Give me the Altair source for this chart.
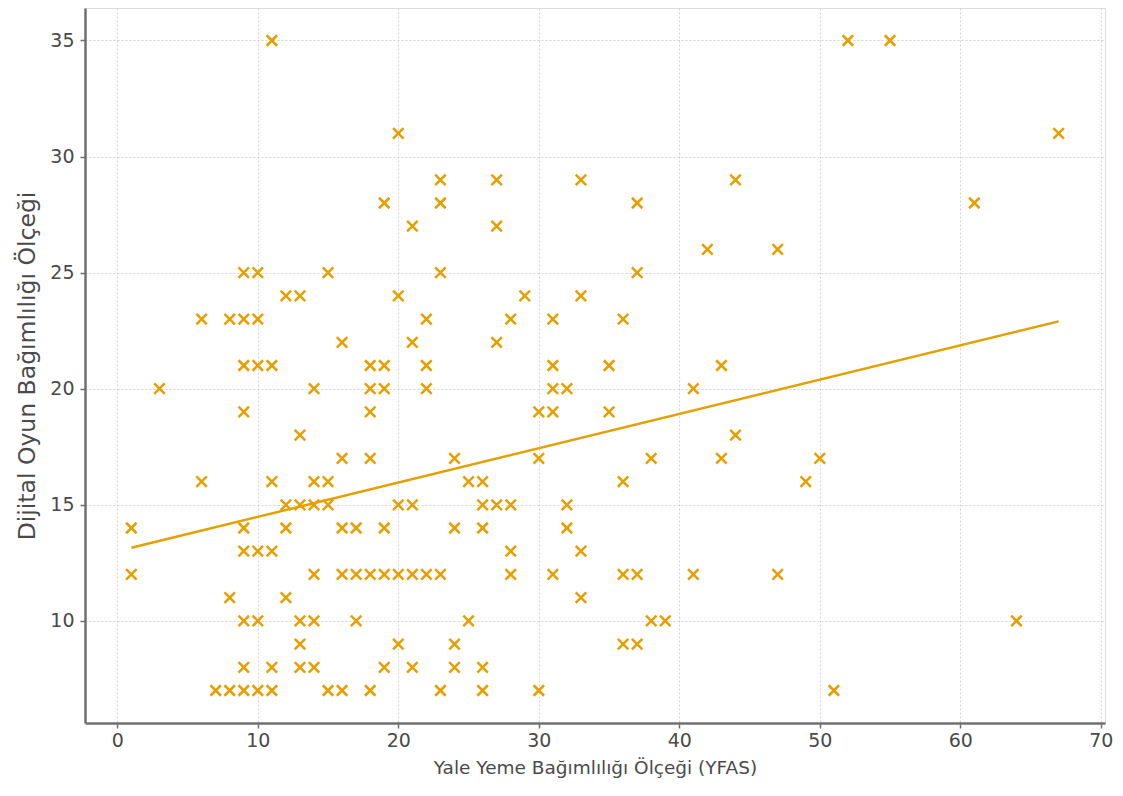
import altair as alt
import pandas as pd

# Points, grouped by the y value (Dijital Oyun Bağımlılığı Ölçeği)
yfas = [
    11, 52, 55,
    20, 67,
    23, 27, 33, 44,
    19, 23, 37, 61,
    21, 27,
    42, 47,
    9, 10, 15, 23, 37,
    12, 13, 20, 29, 33,
    6, 8, 9, 10, 22, 28, 31, 36,
    16, 21, 27,
    9, 10, 11, 18, 19, 22, 31, 35, 43,
    3, 14, 18, 19, 22, 31, 32, 41,
    9, 18, 30, 31, 35,
    13, 44,
    16, 18, 24, 30, 38, 43, 50,
    6, 11, 14, 15, 25, 26, 36, 49,
    12, 13, 14, 15, 20, 21, 26, 27, 28, 32,
    1, 9, 12, 16, 17, 19, 24, 26, 32,
    9, 10, 11, 28, 33,
    1, 14, 16, 17, 18, 19, 20, 21, 22, 23, 28, 31, 36, 37, 41, 47,
    8, 12, 33,
    9, 10, 13, 14, 17, 25, 38, 39, 64,
    13, 20, 24, 36, 37,
    9, 11, 13, 14, 19, 21, 24, 26,
    7, 8, 9, 10, 11, 15, 16, 18, 23, 26, 30, 51,
]
dijital = (
    [35] * 3 + [31] * 2 + [29] * 4 + [28] * 4 + [27] * 2 + [26] * 2 + [25] * 5
    + [24] * 5 + [23] * 8 + [22] * 3 + [21] * 9 + [20] * 8 + [19] * 5 + [18] * 2
    + [17] * 7 + [16] * 8 + [15] * 10 + [14] * 9 + [13] * 5 + [12] * 16 + [11] * 3
    + [10] * 9 + [9] * 5 + [8] * 8 + [7] * 12
)

# Fitted trend line as drawn in the reference (end points)
fit_x = [1, 67]
fit_y = [13.15, 22.9]

x_ticks = [0, 10, 20, 30, 40, 50, 60, 70]
y_ticks = [10, 15, 20, 25, 30, 35]

df = pd.DataFrame({"x": yfas, "y": dijital})
fit_df = pd.DataFrame({"x": fit_x, "y": fit_y})

COLOR = "#E69F00"
FONT = "DejaVu Sans"
TXT = "#4a4a4a"

xscale = alt.Scale(domain=[-2.3, 70.3], nice=False, zero=False)
yscale = alt.Scale(domain=[5.6, 36.4], nice=False, zero=False)

xaxis = alt.Axis(
    title="Yale Yeme Bağımlılığı Ölçeği (YFAS)",
    values=x_ticks, format="d",
    grid=True, gridColor="#d2d2d2", gridDash=[2, 2], gridWidth=1,
    domainColor="#707070", domainWidth=2.5,
    tickColor="#707070", tickSize=5, tickWidth=1.5,
    labelFont=FONT, labelFontSize=19, labelColor=TXT, labelPadding=3,
    titleFont=FONT, titleFontSize=18.5, titleFontWeight="normal", titleColor=TXT,
    titlePadding=8,
)
yaxis = alt.Axis(
    title="Dijital Oyun Bağımlılığı Ölçeği",
    values=y_ticks, format="d",
    grid=True, gridColor="#d2d2d2", gridDash=[2, 2], gridWidth=1,
    domainColor="#707070", domainWidth=2.5,
    tickColor="#707070", tickSize=5, tickWidth=1.5,
    labelFont=FONT, labelFontSize=19, labelColor=TXT, labelPadding=6,
    titleFont=FONT, titleFontSize=23.5, titleFontWeight="normal", titleColor=TXT,
    titlePadding=10,
)

points = alt.Chart(df).mark_point(
    shape="M-1,-1L1,1M-1,1L1,-1",
    filled=False,
    color=COLOR,
    size=110,
    strokeWidth=2.5,
    opacity=1,
).encode(
    x=alt.X("x:Q", scale=xscale, axis=xaxis),
    y=alt.Y("y:Q", scale=yscale, axis=yaxis),
)

line = alt.Chart(fit_df).mark_line(
    color=COLOR, strokeWidth=2.5
).encode(
    x=alt.X("x:Q", scale=xscale),
    y=alt.Y("y:Q", scale=yscale),
)

chart = alt.layer(points, line).properties(
    width=1020,
    height=715,
    autosize=alt.AutoSizeParams(type="none"),
    padding={"left": 77, "top": 0, "right": 10, "bottom": 70},
).configure_view(stroke=None).configure(background="white")

chart.save("out.html", embed_options={"renderer": "svg", "actions": False})
